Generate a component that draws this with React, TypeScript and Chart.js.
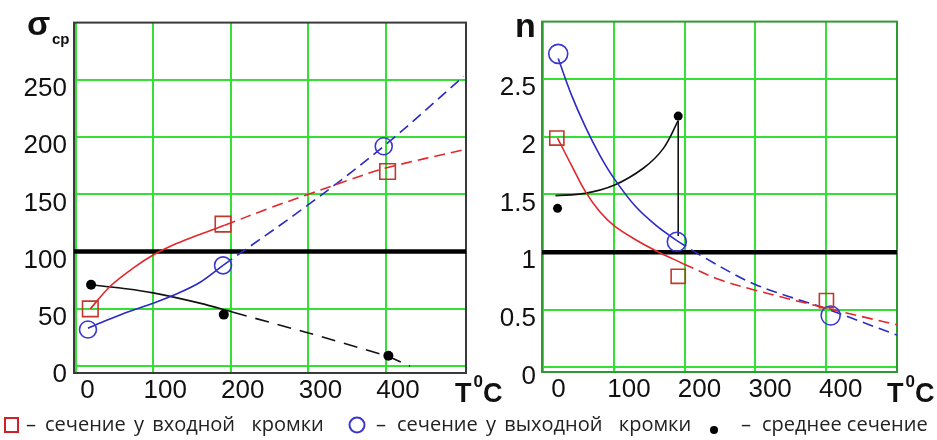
import React, { useEffect, useRef } from "react";
import { Chart, registerables } from "chart.js";

Chart.register(...registerables);

const W = 937;
const H = 440;

// ---- tick values ----
const tempTicks = [0, 100, 200, 300, 400];
const sigmaTicks = [0, 50, 100, 150, 200, 250];
const nTicks = [0, 0.5, 1, 1.5, 2, 2.5];

// ---- left chart: sigma_cp vs T ----
const sigInletT = [19, 190, 402];
const sigInletV = [50, 124, 170];
const sigOutletT = [16, 190, 397];
const sigOutletV = [32, 88, 192];
const sigMidT = [20, 191, 403];
const sigMidV = [71, 45, 9];

const sigInletSolidT = [19, 45, 75, 100, 130, 160, 192];
const sigInletSolidV = [50, 70, 86, 97, 107, 115, 123];
const sigInletDashT = [192, 250, 300, 350, 400, 500];
const sigInletDashV = [123, 138, 150, 162, 173, 189];

const sigOutletSolidT = [16, 40, 70, 100, 130, 160, 190];
const sigOutletSolidV = [33, 40, 48, 55, 63, 73, 88];
const sigOutletDashT = [190, 300, 397, 500];
const sigOutletDashV = [88, 141, 192, 253];

const sigMidSolidT = [20, 60, 100, 160, 203];
const sigMidSolidV = [71, 68, 64, 55, 47];
const sigMidDashT = [203, 300, 401, 431];
const sigMidDashV = [47, 29, 9, 0];

const sigLimitT = [-2, 503];
const sigLimitV = [100, 100];

// ---- right chart: n vs T ----
const nInletT = [19, 191, 401];
const nInletV = [1.99, 0.79, 0.58];
const nOutletT = [21, 189, 407];
const nOutletV = [2.72, 1.09, 0.45];
const nMidT = [20, 191];
const nMidV = [1.38, 2.18];

const nInletSolidT = [20, 40, 60, 80, 100, 130, 160, 198];
const nInletSolidV = [1.99, 1.75, 1.52, 1.35, 1.23, 1.11, 1.01, 0.9];
const nInletDashT = [198, 250, 300, 400, 501];
const nInletDashV = [0.9, 0.76, 0.67, 0.515, 0.37];

const nOutletSolidT = [21, 40, 60, 80, 100, 130, 160, 189];
const nOutletSolidV = [2.68, 2.36, 2.08, 1.84, 1.64, 1.4, 1.23, 1.1];
const nOutletDashT = [189, 226, 300, 400, 501];
const nOutletDashV = [1.1, 0.96, 0.72, 0.51, 0.28];

const nMidCurveT = [17, 59, 100, 142, 170, 191];
const nMidCurveV = [1.49, 1.51, 1.58, 1.73, 1.9, 2.14];
const nMidDropT = [191, 191];
const nMidDropV = [2.14, 1.14];

const nLimitT = [-2, 501];
const nLimitV = [1, 1];

// ---- legend ----
const legendLabels = [
  "сечение у входной  кромки",
  "сечение у выходной  кромки",
  "среднее сечение",
];

// ---- styles ----
const FONT = "'Liberation Sans', Arial, sans-serif";
const LEGEND_FONT = "'Open Sans', sans-serif";
const RED = "#e3262b";
const RED_MARK = "#c0392b";
const BLUE = "#2a2ac4";
const BLUE_MARK = "#3a36d0";
const GRID = "#33e033";

type Pt = { x: number; y: number };
const pts = (xs: number[], ys: number[]): Pt[] => xs.map((x, i) => ({ x, y: ys[i] }));

function curve(xs: number[], ys: number[], color: string, dash: number[], width = 1.6, tension = 0.35) {
  return {
    data: pts(xs, ys),
    showLine: true,
    borderColor: color,
    backgroundColor: color,
    borderWidth: width,
    borderDash: dash,
    pointRadius: 0,
    tension,
    fill: false,
  };
}

function marks(xs: number[], ys: number[], style: string, r: number, color: string, filled: boolean) {
  return {
    data: pts(xs, ys),
    showLine: false,
    pointStyle: style,
    pointRadius: r,
    pointBorderWidth: filled ? 0 : 1.6,
    pointBorderColor: color,
    pointBackgroundColor: filled ? color : "rgba(0,0,0,0)",
    borderColor: color,
    backgroundColor: filled ? color : "rgba(0,0,0,0)",
  };
}

function framePlugin(color: string, width: number) {
  return {
    id: "frame",
    beforeDatasetsDraw(chart: any) {
      const { ctx, chartArea: a } = chart;
      ctx.save();
      ctx.strokeStyle = color;
      ctx.lineWidth = width;
      ctx.strokeRect(a.left, a.top, a.right - a.left, a.bottom - a.top);
      ctx.restore();
    },
  };
}

function drawTC(ctx: CanvasRenderingContext2D, x: number, baseline: number) {
  ctx.fillStyle = "#111";
  ctx.textBaseline = "alphabetic";
  ctx.textAlign = "left";
  ctx.font = `bold 27px ${FONT}`;
  ctx.fillText("T", x, baseline);
  const tw = ctx.measureText("T").width;
  ctx.font = `bold 17px ${FONT}`;
  ctx.fillText("0", x + tw + 2, baseline - 15);
  const zw = ctx.measureText("0").width;
  ctx.font = `bold 27px ${FONT}`;
  ctx.fillText("C", x + tw + 2 + zw, baseline);
}

const leftTextPlugin = {
  id: "leftText",
  afterDraw(chart: any) {
    const ctx: any = chart.ctx;
    ctx.save();
    ctx.fillStyle = "#111";
    ctx.textAlign = "left";
    ctx.textBaseline = "alphabetic";
    ctx.font = `bold 34px ${FONT}`;
    ctx.fillText("σ", 27, 35);
    ctx.font = `bold 15px ${FONT}`;
    ctx.fillText("cp", 52, 44);
    drawTC(ctx, 455, 402);

    // legend symbols
    ctx.strokeStyle = "#d0202a";
    ctx.lineWidth = 2;
    ctx.strokeRect(5, 418, 13, 14);
    ctx.strokeStyle = BLUE_MARK;
    ctx.beginPath();
    ctx.arc(357, 425, 7.5, 0, Math.PI * 2);
    ctx.stroke();
    ctx.fillStyle = "#000";
    ctx.beginPath();
    ctx.arc(714, 430, 4, 0, Math.PI * 2);
    ctx.fill();

    // legend texts
    const by = 431;
    ctx.fillStyle = "#222";
    ctx.font = `20px ${LEGEND_FONT}`;
    ctx.fillText("–", 26, by);
    ctx.fillText("–", 376, by);
    ctx.fillText("–", 741, by);
    ctx.wordSpacing = "3px";
    ctx.fillText(legendLabels[0], 45, by);
    ctx.fillText(legendLabels[1], 397, by);
    ctx.wordSpacing = "0px";
    ctx.fillText(legendLabels[2], 762, by);
    ctx.restore();
  },
};

const rightTextPlugin = {
  id: "rightText",
  afterDraw(chart: any) {
    const ctx: CanvasRenderingContext2D = chart.ctx;
    ctx.save();
    ctx.fillStyle = "#111";
    ctx.textAlign = "left";
    ctx.textBaseline = "alphabetic";
    ctx.font = `bold 34px ${FONT}`;
    ctx.fillText("n", 515, 37);
    drawTC(ctx, 887, 402);
    ctx.restore();
  },
};

function makeScales(o: {
  xmin: number; xmax: number; ymin: number; ymax: number;
  yTicks: number[]; yWidth: number; xHeight: number; yPad: number; xOffset: number;
}) {
  return {
    x: {
      type: "linear",
      min: o.xmin,
      max: o.xmax,
      afterBuildTicks: (s: any) => { s.ticks = tempTicks.map((v) => ({ value: v })); },
      afterFit: (s: any) => { s.height = o.xHeight; },
      grid: { color: GRID, lineWidth: 2, drawTicks: false },
      border: { display: false },
      ticks: {
        font: { family: FONT, size: 26 },
        color: "#111",
        padding: 2,
        labelOffset: o.xOffset,
        maxRotation: 0,
        autoSkip: false,
        callback: (v: any) => String(v),
      },
    },
    y: {
      type: "linear",
      min: o.ymin,
      max: o.ymax,
      afterBuildTicks: (s: any) => { s.ticks = o.yTicks.map((v) => ({ value: v })); },
      afterFit: (s: any) => { s.width = o.yWidth; },
      grid: { color: GRID, lineWidth: 2, drawTicks: false },
      border: { display: false },
      ticks: {
        font: { family: FONT, size: 26 },
        color: "#111",
        padding: o.yPad,
        labelOffset: 9,
        autoSkip: false,
        callback: (v: any) => String(v),
      },
    },
  };
}

export default function App() {
  const leftRef = useRef<HTMLCanvasElement>(null);
  const rightRef = useRef<HTMLCanvasElement>(null);

  useEffect(() => {
    const common = {
      responsive: false,
      animation: false,
      events: [],
      plugins: { legend: { display: false }, tooltip: { enabled: false } },
    };

    const left = new Chart(leftRef.current as HTMLCanvasElement, {
      type: "scatter",
      data: {
        datasets: [
          marks(sigInletT, sigInletV, "rect", 11, RED_MARK, false),
          marks(sigOutletT, sigOutletV, "circle", 8.5, BLUE_MARK, false),
          marks(sigMidT, sigMidV, "circle", 5, "#000", true),
          curve(sigInletSolidT, sigInletSolidV, RED, []),
          curve(sigInletDashT, sigInletDashV, RED, [11, 6]),
          curve(sigOutletSolidT, sigOutletSolidV, BLUE, []),
          curve(sigOutletDashT, sigOutletDashV, BLUE, [11, 6]),
          curve(sigMidSolidT, sigMidSolidV, "#111", []),
          curve(sigMidDashT, sigMidDashV, "#111", [14, 9], 1.6, 0),
          curve(sigLimitT, sigLimitV, "#000", [], 4.5, 0),
        ] as any,
      },
      options: {
        ...common,
        layout: { padding: { left: 0, right: W - 466, top: 14, bottom: 0 } },
        scales: makeScales({
          xmin: -2, xmax: 503, ymin: -6, ymax: 300,
          yTicks: sigmaTicks, yWidth: 74, xHeight: H - 373, yPad: 7, xOffset: 12,
        }) as any,
      } as any,
      plugins: [framePlugin("#3a3a3a", 2), leftTextPlugin],
    });

    const right = new Chart(rightRef.current as HTMLCanvasElement, {
      type: "scatter",
      data: {
        datasets: [
          marks(nInletT, nInletV, "rect", 10, RED_MARK, false),
          marks(nOutletT, nOutletV, "circle", 9.5, BLUE_MARK, false),
          marks(nMidT, nMidV, "circle", 4.5, "#000", true),
          curve(nInletSolidT, nInletSolidV, RED, []),
          curve(nInletDashT, nInletDashV, RED, [11, 6]),
          curve(nOutletSolidT, nOutletSolidV, BLUE, []),
          curve(nOutletDashT, nOutletDashV, BLUE, [11, 6]),
          curve(nMidCurveT, nMidCurveV, "#111", []),
          curve(nMidDropT, nMidDropV, "#111", [], 1.6, 0),
          curve(nLimitT, nLimitV, "#000", [], 4.5, 0),
        ] as any,
      },
      options: {
        ...common,
        layout: { padding: { left: 542 - 60, right: W - 897, top: 11, bottom: 0 } },
        scales: makeScales({
          xmin: -2, xmax: 501, ymin: -0.04, ymax: 3.0,
          yTicks: nTicks, yWidth: 60, xHeight: H - 372, yPad: 6, xOffset: 15,
        }) as any,
      } as any,
      plugins: [framePlugin("#2f9a2f", 2), rightTextPlugin],
    });

    return () => {
      left.destroy();
      right.destroy();
    };
  }, []);

  return (
    <div style={{ position: "absolute", left: 0, top: 0, width: W, height: H, background: "#fff" }}>
      <canvas ref={leftRef} width={W} height={H} style={{ position: "absolute", left: 0, top: 0 }} />
      <canvas ref={rightRef} width={W} height={H} style={{ position: "absolute", left: 0, top: 0 }} />
    </div>
  );
}
